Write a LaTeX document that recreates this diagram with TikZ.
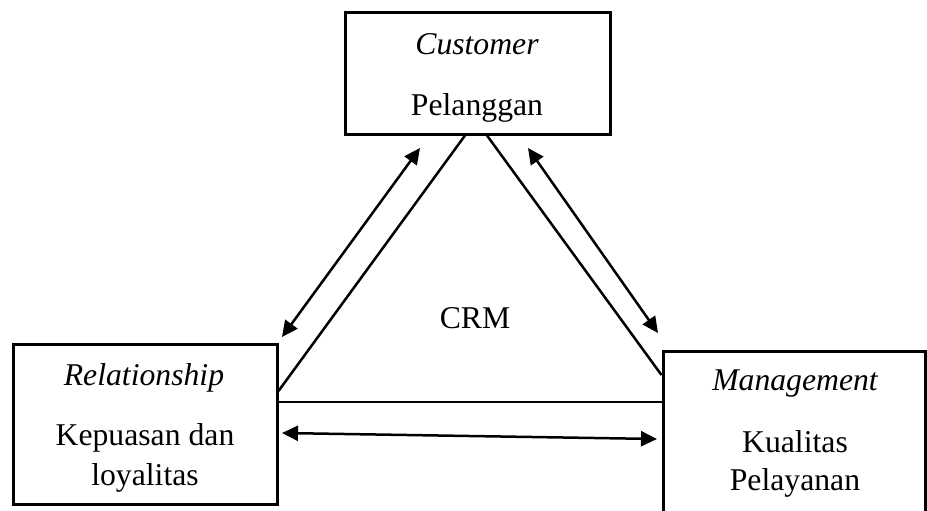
\documentclass[tikz,border=0pt]{standalone}
\usepackage{fontspec}
\setmainfont{Liberation Serif}
\usetikzlibrary{arrows.meta,calc}

\tikzset{
  box/.style={draw, line width=3pt, inner sep=0pt, minimum width=#1},
  lbl/.style={anchor=base, inner sep=0pt, font=\fontsize{31.7}{38}\selectfont},
  ilbl/.style={lbl, font=\fontsize{31.7}{38}\selectfont\itshape},
  side/.style={line width=2.5pt},
  link/.style={line width=2.5pt, {Triangle[length=16pt,width=15pt]}-{Triangle[length=16pt,width=15pt]}}
}

\begin{document}
\begin{tikzpicture}[x=1pt,y=-1pt]
  \useasboundingbox (0,0) rectangle (927,511);

  % the three boxes
  \node[box=265pt, minimum height=121pt] (cust) at (477.5,73.5) {};
  \node[box=264pt, minimum height=160pt] (rel)  at (145,424) {};
  \node[box=262pt, minimum height=179pt] (mgmt) at (794,440.5) {};

  % box texts
  \node[ilbl] (custA) at (477,55) {Customer};
  \node[lbl]  (custB) at (477,115) {Pelanggan};
  \node[ilbl] (relA)  at (144,385) {Relationship};
  \node[lbl]  (relB)  at (145,445) {Kepuasan dan};
  \node[lbl]  (relC)  at (145,485) {loyalitas};
  \node[ilbl] (mgA)   at (795,390) {Management};
  \node[lbl]  (mgB)   at (795,452) {Kualitas};
  \node[lbl]  (mgC)   at (795,490) {Pelayanan};
  \node[lbl]  (crm)   at (475,328) {CRM};

  % triangle sides joining the boxes
  \draw[side] ([xshift=-12.5pt]cust.south) -- ([yshift=33pt]rel.east);
  \draw[side] ([xshift=9.5pt]cust.south)   -- ([yshift=65.5pt]mgmt.west);
  \draw[side] ([yshift=22pt]rel.east)      -- ([yshift=38.5pt]mgmt.west);

  % two-way relations
  \coordinate (p1) at (420,148);
  \coordinate (p2) at (282,337);
  \coordinate (p3) at (528,148);
  \coordinate (p4) at (658,333);
  \coordinate (p5) at (282,433);
  \coordinate (p6) at (657,439);
  \draw[link] (p1) -- (p2);
  \draw[link] (p3) -- (p4);
  \draw[link] (p5) -- (p6);
\end{tikzpicture}
\end{document}
